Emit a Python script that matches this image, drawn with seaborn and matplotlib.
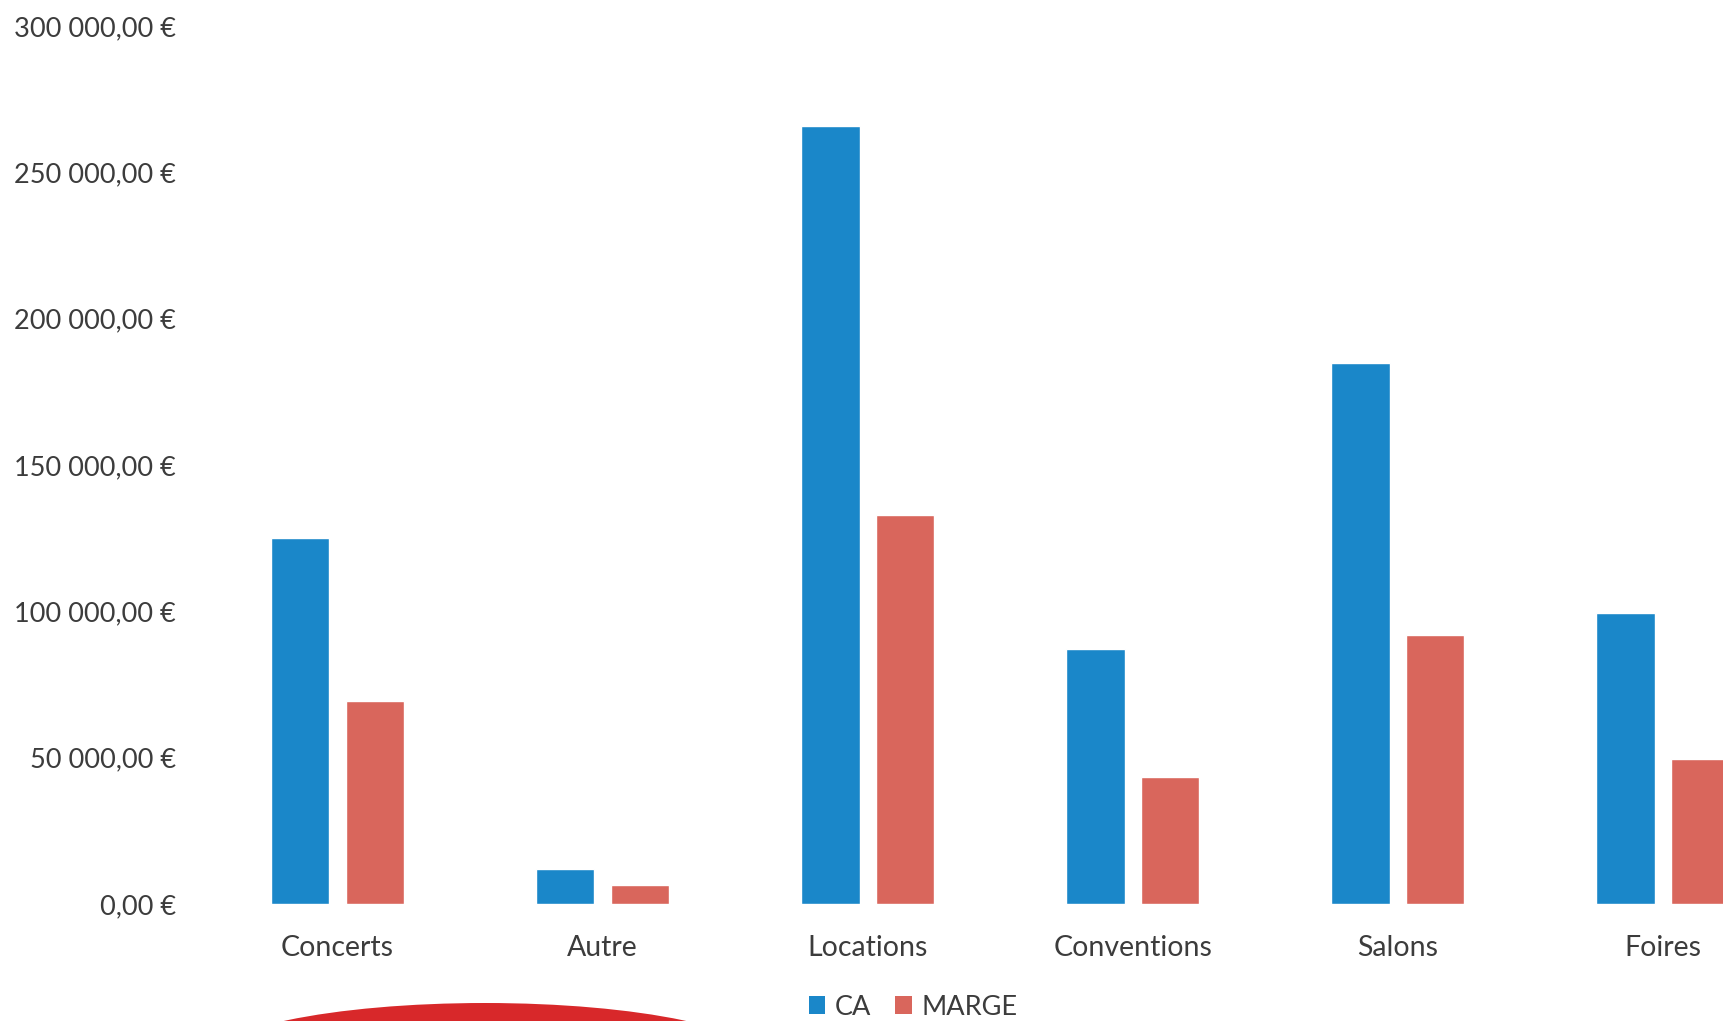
import matplotlib
matplotlib.use("Agg")
import matplotlib.pyplot as plt
from matplotlib.ticker import FuncFormatter
from matplotlib.patches import Ellipse, Patch
import seaborn as sns
import pandas as pd

categories = ["Concerts", "Autre", "Locations", "Conventions", "Salons", "Foires"]
ca = [125000, 12000, 266000, 87000, 185000, 99500]
marge = [69500, 6500, 133000, 43500, 92000, 49500]
series_names = ["CA", "MARGE"]
colors = ["#1a87c9", "#d9665c"]

df = pd.DataFrame({
    "cat": categories * 2,
    "val": ca + marge,
    "serie": [series_names[0]] * len(categories) + [series_names[1]] * len(categories),
})

sns.set_theme(style="white")
plt.rcParams["font.family"] = ["Lato", "DejaVu Sans"]

W, H = 1724, 1021
fig = plt.figure(figsize=(W / 100, H / 100), dpi=100)
left, right, bottom, top = 205, 1724, 904, 26
ax = fig.add_axes([left / W, 1 - bottom / H, (right - left) / W, (bottom - top) / H])

sns.barplot(data=df, x="cat", y="val", hue="serie", order=categories,
            hue_order=series_names, palette=colors, width=0.564, gap=0.22,
            saturation=1, ax=ax, legend=False)

ax.set_xlim(-0.5, 5.23)
ax.set_ylim(0, 300000)
ax.set_yticks([0, 50000, 100000, 150000, 200000, 250000, 300000])

def fmt(v, pos):
    s = f"{v:,.2f}".replace(",", " ").replace(".", ",")
    return s + " €"

ax.yaxis.set_major_formatter(FuncFormatter(fmt))
ax.set_xlabel("")
ax.set_ylabel("")
for sp in ax.spines.values():
    sp.set_visible(False)
ax.tick_params(axis="y", length=0, pad=21, labelsize=19.5, labelcolor="#3c3c3c")
ax.tick_params(axis="x", length=0, pad=22, labelsize=20.5, labelcolor="#3c3c3c")
ax.grid(False)

handles = [Patch(facecolor=c, edgecolor="none") for c in colors]
fig.legend(handles, series_names, loc="center", bbox_to_anchor=(913 / W, 1 - 1007 / H),
           ncol=2, frameon=False, fontsize=19.5, handlelength=0.6, handleheight=0.6,
           handletextpad=0.35, columnspacing=0.9, labelcolor="#3c3c3c")

# red shape partially visible at the bottom edge of the scan
blob = Ellipse((485 / W, 1 - 1062 / H), 560 / W, 118 / H, transform=fig.transFigure,
               facecolor="#d8282a", edgecolor="none", clip_on=False)
fig.patches.append(blob)

fig.savefig("out.png", dpi=100, facecolor="white")
